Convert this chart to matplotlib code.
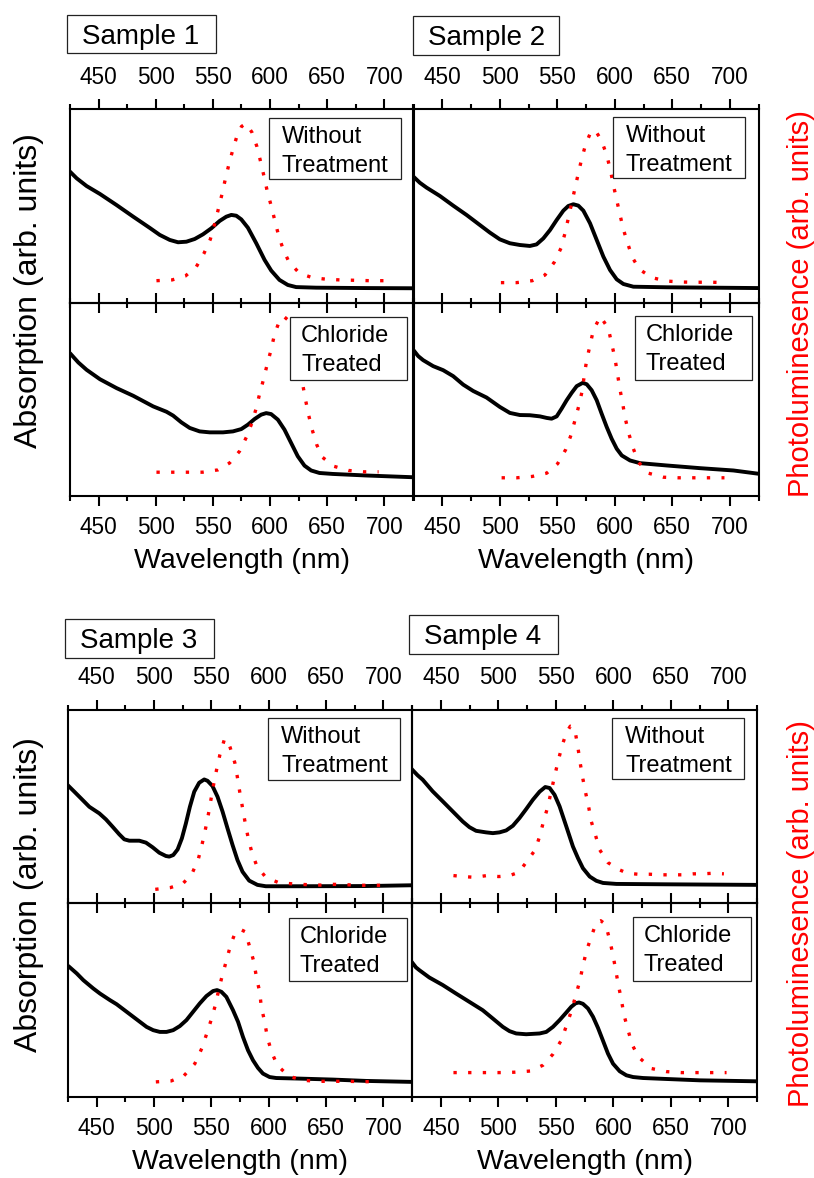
import matplotlib
matplotlib.use("Agg")
import matplotlib.pyplot as plt
from matplotlib.patches import Rectangle
from matplotlib.ticker import MultipleLocator

plt.rcParams['font.family'] = ['Liberation Sans', 'DejaVu Sans']

# ---------------- data (wavelength in nm, intensities in arb. units) ----------------
samples = ["Sample 1", "Sample 2", "Sample 3", "Sample 4"]
conditions = ["Without\nTreatment", "Chloride\nTreated"]

# Sample 1 - without treatment
s1_wo_abs_nm = [425, 430.8, 439.5, 451.2, 465.7, 480.3, 494.8, 503.5, 512.3, 519.5, 526.8, 534.1, 541.3, 548.6,
                555.9, 561.7, 566.1, 570.4, 574.8, 580.6, 587.9, 595.2, 601, 608.2, 615.5, 622.8, 640.2, 683.9,
                724.6]
s1_wo_abs = [0.677, 0.643, 0.603, 0.562, 0.505, 0.445, 0.387, 0.351, 0.325, 0.313, 0.316, 0.33, 0.354, 0.385,
             0.423, 0.445, 0.454, 0.45, 0.431, 0.388, 0.308, 0.222, 0.167, 0.119, 0.093, 0.082, 0.079, 0.077,
             0.076]
s1_wo_pl_nm = [500.6, 514.3, 525.9, 535.5, 542.2, 547.7, 551.5, 554.7, 557.9, 560.8, 564, 567.5, 571.2, 575,
               579, 584.1, 588.5, 591.7, 594.6, 597.5, 601, 604.2, 607.4, 611.4, 616.4, 625.7, 636.8, 649.8,
               661.2, 674.6, 687.4, 699.9]
s1_wo_pl = [0.115, 0.119, 0.139, 0.187, 0.256, 0.328, 0.407, 0.483, 0.56, 0.637, 0.715, 0.792, 0.864, 0.91,
            0.925, 0.88, 0.806, 0.729, 0.655, 0.577, 0.5, 0.424, 0.349, 0.277, 0.213, 0.153, 0.131, 0.122,
            0.119, 0.117, 0.115, 0.115]

# Sample 1 - chloride treated
s1_cl_abs_nm = [425, 432.3, 439.5, 451.2, 465.7, 480.3, 497.7, 509.4, 515.2, 522.4, 529.7, 538.4, 547.2, 558.8,
                567.5, 574.8, 580.6, 586.4, 592.2, 596.6, 600.9, 606.8, 612.6, 618.4, 624.2, 630.1, 635.9, 643.2,
                654.8, 683.9, 724.6]
s1_cl_abs = [0.739, 0.691, 0.653, 0.604, 0.558, 0.518, 0.463, 0.435, 0.415, 0.38, 0.351, 0.333, 0.328, 0.328,
             0.333, 0.345, 0.368, 0.397, 0.42, 0.428, 0.423, 0.394, 0.342, 0.273, 0.204, 0.155, 0.13, 0.117,
             0.112, 0.104, 0.095]
s1_cl_pl_nm = [500.6, 514.3, 527.7, 540.8, 554.4, 564.6, 573.3, 579.2, 584.1, 587.9, 590.8, 594.3, 597.5, 601,
               603.9, 608.2, 612, 616, 620, 624, 628.6, 631, 633.8, 636.8, 640.8, 645.5, 655.7, 668.7, 681.8,
               694.9]
s1_cl_pl = [0.121, 0.121, 0.121, 0.121, 0.133, 0.169, 0.23, 0.302, 0.377, 0.454, 0.527, 0.604, 0.682, 0.76,
            0.838, 0.907, 0.93, 0.91, 0.84, 0.72, 0.575, 0.497, 0.416, 0.342, 0.264, 0.2, 0.152, 0.13, 0.123,
            0.123]

# Sample 2 - without treatment
s2_wo_abs_nm = [425, 430.5, 436.3, 447.9, 459.5, 471.1, 482.7, 491.4, 500.1, 508.8, 517.5, 526.2, 532, 537.9,
                543.7, 549.5, 555.3, 559.6, 564, 568.3, 572.7, 578.5, 584.3, 590.1, 595.9, 601.7, 607.5, 616.2,
                645.2, 725]
s2_wo_abs = [0.651, 0.62, 0.595, 0.552, 0.502, 0.454, 0.402, 0.363, 0.328, 0.308, 0.299, 0.294, 0.302, 0.333,
             0.376, 0.428, 0.476, 0.5, 0.509, 0.502, 0.476, 0.411, 0.325, 0.239, 0.17, 0.122, 0.098, 0.084,
             0.081, 0.077]
s2_wo_pl_nm = [501, 514.6, 528.3, 539.3, 547.4, 553.2, 556.7, 559.6, 562.5, 565.4, 568.3, 571.2, 574.7, 579.3,
               583, 588.3, 593, 596.2, 598.8, 601.7, 604.6, 607.5, 611.2, 615.3, 621.4, 632.1, 645.2, 658.2,
               671.3, 684.4, 698.3]
s2_wo_pl = [0.105, 0.105, 0.115, 0.144, 0.21, 0.282, 0.359, 0.436, 0.514, 0.591, 0.668, 0.742, 0.818, 0.883,
            0.89, 0.84, 0.763, 0.686, 0.608, 0.531, 0.454, 0.38, 0.308, 0.235, 0.174, 0.131, 0.113, 0.108,
            0.107, 0.107, 0.105]

# Sample 2 - chloride treated
s2_cl_abs_nm = [425, 429.1, 433.4, 442.1, 450.8, 459.5, 468.2, 476.9, 488.5, 500.1, 508.8, 517.5, 526.2, 535,
                540.8, 545.1, 549.5, 553.8, 558.2, 562.5, 566.9, 572.1, 575.6, 579.9, 584.3, 588.6, 593, 597.3,
                601.7, 606.1, 613.3, 622, 645.2, 674.2, 703.2, 725]
s2_cl_abs = [0.755, 0.724, 0.703, 0.672, 0.651, 0.62, 0.576, 0.543, 0.509, 0.46, 0.429, 0.418, 0.417, 0.411,
             0.403, 0.399, 0.411, 0.451, 0.495, 0.533, 0.568, 0.585, 0.578, 0.547, 0.495, 0.425, 0.356, 0.295,
             0.243, 0.208, 0.182, 0.168, 0.156, 0.142, 0.13, 0.113]
s2_cl_pl_nm = [501.6, 514.6, 528.3, 540.8, 550.3, 557.3, 561.9, 565.4, 568.9, 571.8, 573.5, 575.6, 578.5,
               581.4, 587.5, 594.4, 597.3, 600.2, 602.3, 604.6, 606.9, 609.2, 612.4, 616.2, 620.5, 629.2, 642.3,
               655.3, 668.4, 681.5, 695.4]
s2_cl_pl = [0.092, 0.092, 0.099, 0.116, 0.165, 0.238, 0.313, 0.391, 0.469, 0.547, 0.625, 0.703, 0.781, 0.859,
            0.93, 0.868, 0.79, 0.712, 0.634, 0.55, 0.477, 0.399, 0.318, 0.243, 0.174, 0.116, 0.095, 0.092,
            0.092, 0.092, 0.092]

# Sample 3 - without treatment
s3_wo_abs_nm = [424.7, 430.5, 436.4, 443.6, 452.3, 458.1, 463.9, 469.7, 474.1, 478.5, 487.2, 493, 498.8, 504.6,
                510.4, 513.3, 516.8, 520.6, 524.3, 527.8, 531.3, 535.1, 539.4, 543.8, 546.7, 551, 555.4, 559.8,
                564.1, 568.5, 572.8, 577.2, 583, 590.2, 597.5, 626.5, 684.6, 724.4]
s3_wo_abs = [0.61, 0.576, 0.541, 0.498, 0.464, 0.433, 0.395, 0.356, 0.33, 0.323, 0.323, 0.313, 0.289, 0.261,
             0.244, 0.241, 0.249, 0.278, 0.335, 0.412, 0.498, 0.576, 0.622, 0.639, 0.632, 0.605, 0.55, 0.473,
             0.387, 0.301, 0.223, 0.163, 0.117, 0.095, 0.088, 0.088, 0.089, 0.093]
s3_wo_pl_nm = [501.1, 514.2, 524.9, 533, 538.6, 541.8, 544.7, 547.3, 549.6, 551.9, 554.5, 557.4, 561.2, 563.5,
               566.4, 570.5, 572.8, 574.9, 577.2, 579.5, 582.1, 585.3, 589.7, 597.5, 608.5, 621.3, 634.1, 645.1,
               655.6, 667.2, 678.8, 690.4, 699]
s3_wo_pl = [0.072, 0.081, 0.1, 0.151, 0.227, 0.301, 0.378, 0.455, 0.533, 0.61, 0.687, 0.765, 0.842, 0.848,
            0.804, 0.725, 0.648, 0.57, 0.493, 0.416, 0.338, 0.263, 0.192, 0.134, 0.107, 0.1, 0.096, 0.094, 0.098,
            0.096, 0.093, 0.093, 0.093]

# Sample 3 - chloride treated
s3_cl_abs_nm = [425.3, 432.6, 438.4, 447.1, 452.9, 461.6, 467.4, 476.1, 481.9, 487.7, 493.5, 499.3, 505.1, 510.9,
                516.7, 522.5, 528.3, 534.1, 539.9, 545.7, 551.5, 555, 558.8, 563.1, 568.9, 573.3, 577.6, 582,
                586.3, 590.7, 595, 600.8, 606.6, 626.9, 655.9, 684.9, 724.6]
s3_cl_abs = [0.676, 0.638, 0.603, 0.56, 0.534, 0.5, 0.479, 0.44, 0.414, 0.388, 0.362, 0.345, 0.336, 0.336,
             0.345, 0.366, 0.397, 0.44, 0.483, 0.521, 0.547, 0.552, 0.543, 0.517, 0.448, 0.388, 0.31, 0.241,
             0.19, 0.15, 0.121, 0.103, 0.098, 0.095, 0.09, 0.083, 0.078]
s3_cl_pl_nm = [501.6, 515, 526, 535.6, 541.6, 545.7, 549.8, 553.5, 556.4, 559.6, 563.1, 567, 571.2, 575.5,
               579.6, 583.4, 586.9, 589.2, 592.1, 593.6, 596.5, 598.8, 602.3, 607.5, 617.6, 630.4, 643.4, 656.5,
               669.8, 682.9, 695.9]
s3_cl_pl = [0.078, 0.083, 0.109, 0.172, 0.25, 0.322, 0.397, 0.474, 0.552, 0.629, 0.703, 0.79, 0.853, 0.865,
            0.853, 0.776, 0.702, 0.624, 0.543, 0.466, 0.388, 0.31, 0.236, 0.164, 0.107, 0.086, 0.081, 0.081,
            0.081, 0.079, 0.079]

# Sample 4 - without treatment
s4_wo_abs_nm = [424.4, 429.7, 434, 442.7, 451.5, 460.2, 468.9, 474.7, 480.5, 489.2, 495.1, 500.9, 506.7, 512.5,
                518.3, 524.1, 529.9, 535.8, 540.7, 544.5, 548.8, 553.2, 559, 564.8, 569.2, 573.5, 579.4, 585.2,
                591, 602.6, 646.2, 725]
s4_wo_abs = [0.693, 0.66, 0.638, 0.578, 0.526, 0.474, 0.422, 0.393, 0.374, 0.366, 0.362, 0.366, 0.376, 0.4,
             0.44, 0.486, 0.534, 0.576, 0.6, 0.595, 0.56, 0.5, 0.397, 0.293, 0.233, 0.181, 0.138, 0.116, 0.105,
             0.1, 0.098, 0.095]
s4_wo_pl_nm = [460.8, 469.5, 479.1, 489.8, 500.3, 509.6, 517.7, 524.7, 532, 535.8, 539.2, 543, 545.9, 548.8,
               551.7, 555.2, 559, 562.5, 565, 567.2, 569.2, 571.2, 573.5, 575.9, 578.5, 580.8, 584.6, 588.1,
               595.3, 604.1, 612.2, 621.5, 631.7, 640.4, 650.6, 660.2, 669.5, 678.2, 686.3, 696.2]
s4_wo_pl = [0.143, 0.138, 0.134, 0.143, 0.138, 0.143, 0.16, 0.216, 0.276, 0.345, 0.422, 0.5, 0.578, 0.655,
            0.728, 0.81, 0.879, 0.914, 0.91, 0.871, 0.802, 0.721, 0.641, 0.569, 0.497, 0.422, 0.348, 0.276,
            0.21, 0.176, 0.155, 0.15, 0.15, 0.147, 0.147, 0.147, 0.152, 0.152, 0.155, 0.152]

# Sample 4 - chloride treated
s4_cl_abs_nm = [424.4, 428.2, 431.1, 439.8, 451.5, 463.1, 474.7, 486.3, 495.1, 503.8, 509.6, 515.4, 524.1, 535.8,
                541.6, 547.4, 553.2, 559, 563.4, 567.2, 570.1, 573.5, 577.9, 582.3, 586.6, 591, 595.3, 599.7,
                605.5, 611.3, 617.2, 625.9, 646.2, 675.3, 725]
s4_cl_abs = [0.698, 0.669, 0.655, 0.617, 0.578, 0.534, 0.491, 0.448, 0.405, 0.362, 0.34, 0.328, 0.324, 0.328,
             0.336, 0.362, 0.397, 0.436, 0.466, 0.484, 0.488, 0.481, 0.457, 0.414, 0.357, 0.29, 0.224, 0.172,
             0.133, 0.112, 0.103, 0.098, 0.093, 0.086, 0.081]
s4_cl_pl_nm = [460.8, 474.1, 487.8, 500.9, 513.9, 527.6, 538.7, 547.4, 554.7, 559, 563.4, 566.9, 570.6, 573.5,
               576.5, 580.8, 585.2, 589, 593.3, 596.8, 599.7, 602, 604.4, 607, 609.3, 612.8, 616.3, 621.8,
               633.1, 646.2, 659.3, 672.4, 685.5, 698.5]
s4_cl_pl = [0.126, 0.126, 0.126, 0.126, 0.128, 0.134, 0.164, 0.221, 0.293, 0.366, 0.443, 0.517, 0.595, 0.676,
            0.753, 0.828, 0.902, 0.91, 0.891, 0.81, 0.733, 0.655, 0.578, 0.5, 0.422, 0.345, 0.271, 0.207,
            0.147, 0.131, 0.126, 0.126, 0.126, 0.126]

series = [
    [(s1_wo_abs_nm, s1_wo_abs, s1_wo_pl_nm, s1_wo_pl), (s1_cl_abs_nm, s1_cl_abs, s1_cl_pl_nm, s1_cl_pl)],
    [(s2_wo_abs_nm, s2_wo_abs, s2_wo_pl_nm, s2_wo_pl), (s2_cl_abs_nm, s2_cl_abs, s2_cl_pl_nm, s2_cl_pl)],
    [(s3_wo_abs_nm, s3_wo_abs, s3_wo_pl_nm, s3_wo_pl), (s3_cl_abs_nm, s3_cl_abs, s3_cl_pl_nm, s3_cl_pl)],
    [(s4_wo_abs_nm, s4_wo_abs, s4_wo_pl_nm, s4_wo_pl), (s4_cl_abs_nm, s4_cl_abs, s4_cl_pl_nm, s4_cl_pl)],
]

# ---------------- layout (pixels) ----------------
W, H = 814, 1178
fig = plt.figure(figsize=(W / 100, H / 100), dpi=100)
fig.patch.set_facecolor("white")

# (left, right, top, middle, bottom) of each sample's stacked pair
frames = [
    (70.0, 413.0, 109.0, 303.0, 495.5),
    (413.5, 758.5, 109.0, 303.0, 495.5),
    (68.0, 412.0, 709.5, 903.3, 1097.0),
    (412.3, 757.0, 709.5, 903.3, 1097.0),
]
# label boxes inside the panels: (x0, y0, x1, y1), top then bottom panel
inset_boxes = [
    [(269, 118, 401, 179), (290, 317, 407, 380)],
    [(613, 117, 745, 178), (635, 316, 752, 380)],
    [(268, 718, 400, 780), (289, 918, 407, 981)],
    [(612, 718, 744, 779), (633, 917, 751, 981)],
]
inset_pad = [13, 11]
title_boxes = [(67, 15, 216, 53), (412.7, 16, 558.7, 55), (65, 619, 214, 658), (409, 615, 558, 654)]

RED = "#ff0000"
TICK_FS = 16.3


def fx(x):
    return x / W


def fy(y):
    return 1 - y / H


def add_px_axes(x0, x1, y0, y1):
    return fig.add_axes([fx(x0), fy(y1), (x1 - x0) / W, (y1 - y0) / H])


def add_box(x0, y0, x1, y1, lw=0.9):
    r = Rectangle((fx(x0), fy(y1)), (x1 - x0) / W, (y1 - y0) / H, transform=fig.transFigure,
                  facecolor="white", edgecolor="#222222", linewidth=lw, zorder=10)
    fig.add_artist(r)


def style_axes(ax, top_panel):
    ax.set_xlim(425, 725)
    ax.set_ylim(0, 1)
    ax.patch.set_visible(False)
    for sp in ax.spines.values():
        sp.set_linewidth(1.5)
    ax.xaxis.set_major_locator(MultipleLocator(50))
    ax.xaxis.set_minor_locator(MultipleLocator(25))
    ax.tick_params(axis="x", which="both", direction="out", top=True, bottom=True, width=1.5,
                   labelsize=TICK_FS, labeltop=top_panel, labelbottom=not top_panel, pad=7.5)
    ax.tick_params(axis="x", which="major", length=7)
    ax.tick_params(axis="x", which="minor", length=3.4)
    ax.set_yticks([])


for k, (xl, xr, yt, ym, yb) in enumerate(frames):
    for j, (y0, y1) in enumerate([(yt, ym), (ym, yb)]):
        ax = add_px_axes(xl, xr, y0, y1)
        style_axes(ax, top_panel=(j == 0))
        abs_nm, abs_v, pl_nm, pl_v = series[k][j]
        ax.plot(abs_nm, abs_v, color="black", lw=2.8, solid_joinstyle="round", solid_capstyle="round",
                zorder=2)
        ax.plot(pl_nm, pl_v, color=RED, lw=2.4, linestyle=(0, (1, 3.4)), dash_capstyle="butt", zorder=3)

        bx0, by0, bx1, by1 = inset_boxes[k][j]
        add_box(bx0, by0, bx1, by1)
        line1, line2 = conditions[j].split("\n")
        fig.text(fx(bx0 + inset_pad[j]), fy(by0 + 25), line1, fontsize=17, ha="left", va="baseline",
                 zorder=11)
        fig.text(fx(bx0 + inset_pad[j]), fy(by0 + 54), line2, fontsize=17, ha="left", va="baseline",
                 zorder=11)

    # sample title
    tx0, ty0, tx1, ty1 = title_boxes[k]
    add_box(tx0, ty0, tx1, ty1)
    fig.text(fx(tx0 + 15), fy(ty0 + 29), samples[k], fontsize=20, ha="left", va="baseline", zorder=11)

    # wavelength label under the pair
    fig.text(fx((xl + xr) / 2), fy(yb + 65), "Wavelength (nm)", fontsize=20.5, ha="center", va="center")

# shared vertical labels
for yc in (291, 895):
    fig.text(fx(29), fy(yc), "Absorption (arb. units)", fontsize=23, rotation=90, ha="center", va="center")
for yc in (303.5, 913.5):
    fig.text(fx(801), fy(yc), "Photoluminesence (arb. units)", fontsize=21, rotation=90, ha="center",
             va="center", color=RED)

fig.savefig("out.png", dpi=100, facecolor="white")
